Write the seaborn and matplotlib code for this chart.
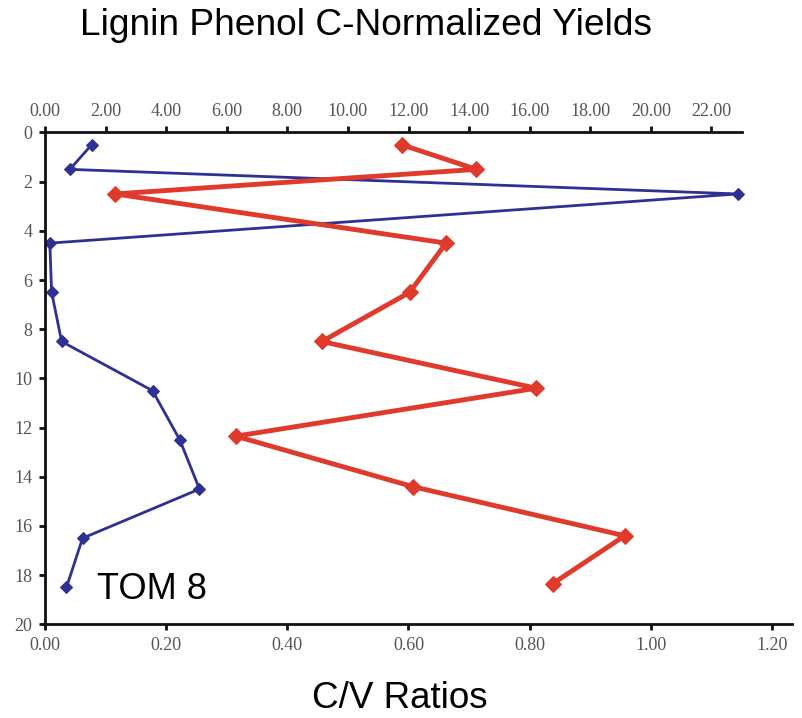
import matplotlib
matplotlib.use("Agg")
import matplotlib.pyplot as plt
import seaborn as sns
import pandas as pd
from matplotlib.ticker import FormatStrFormatter

# lignin phenol C-normalized yields (top axis) - blue
lig_depth = [0.5, 1.5, 2.5, 4.5, 6.5, 8.5, 10.5, 12.5, 14.5, 16.5, 18.5]
lig_yield = [1.54, 0.82, 22.87, 0.16, 0.22, 0.55, 3.55, 4.45, 5.1, 1.24, 0.71]

# C/V ratios (bottom axis) - red
cv_depth = [0.5, 1.5, 2.5, 4.5, 6.5, 8.5, 10.4, 12.35, 14.4, 16.4, 18.35]
cv_ratio = [0.589, 0.712, 0.116, 0.662, 0.602, 0.457, 0.811, 0.315, 0.607, 0.957, 0.838]

depth_ticks = list(range(0, 21, 2))
top_ticks = list(range(0, 23, 2))
bottom_ticks = [0.0, 0.2, 0.4, 0.6, 0.8, 1.0, 1.2]

sns.set_style("ticks")
plt.rcParams["font.family"] = ["Liberation Sans", "DejaVu Sans"]

df_lig = pd.DataFrame({"depth": lig_depth, "val": lig_yield})
df_cv = pd.DataFrame({"depth": cv_depth, "val": cv_ratio})

fig = plt.figure(figsize=(8.03, 7.18), dpi=100)
ax = fig.add_axes([0.056, 0.1305, 0.930, 0.6850])
ax2 = ax.twiny()

blue = "#2E3192"
red = "#E03A2C"

sns.lineplot(data=df_lig, x="val", y="depth", orient="y", ax=ax, color=blue,
             lw=2, marker="D", markersize=6, markeredgecolor=blue)
sns.lineplot(data=df_cv, x="val", y="depth", orient="y", ax=ax2, color=red,
             lw=3.5, marker="D", markersize=8, markeredgecolor=red)

ax.set_ylim(20, 0)
ax.set_xlim(0, 24.65)
ax2.set_xlim(0, 1.2327)

ax.xaxis.tick_top()
ax2.xaxis.set_ticks_position("bottom")
ax2.xaxis.set_label_position("bottom")

ax.set_xticks(top_ticks)
ax.set_yticks(depth_ticks)
ax2.set_xticks(bottom_ticks)
ax.xaxis.set_major_formatter(FormatStrFormatter("%.2f"))
ax2.xaxis.set_major_formatter(FormatStrFormatter("%.2f"))

ax.set_xlabel("")
ax.set_ylabel("")
ax2.set_xlabel("")

for s in ["right", "bottom"]:
    ax.spines[s].set_visible(False)
for s in ["top", "left", "right"]:
    ax2.spines[s].set_visible(False)
ax.spines["top"].set_bounds(0, 23)
for sp in [ax.spines["top"], ax.spines["left"], ax2.spines["bottom"]]:
    sp.set_linewidth(2)
    sp.set_color("#111111")

for a in [ax, ax2]:
    a.tick_params(length=4, width=2, color="#111111", labelcolor="#555555",
                  labelsize=13, pad=5)
    for lab in a.get_xticklabels() + a.get_yticklabels():
        lab.set_fontfamily("Liberation Serif")

fig.text(0.456, 0.965, "Lignin Phenol C-Normalized Yields", ha="center",
         va="center", fontsize=26.7, color="black")
fig.text(0.498, 0.027, "C/V Ratios", ha="center", va="center",
         fontsize=26.5, color="black")
ax.text(1.71, 18.6, "TOM 8", ha="left", va="center", fontsize=26, color="black")

fig.savefig("out.png", dpi=100)
